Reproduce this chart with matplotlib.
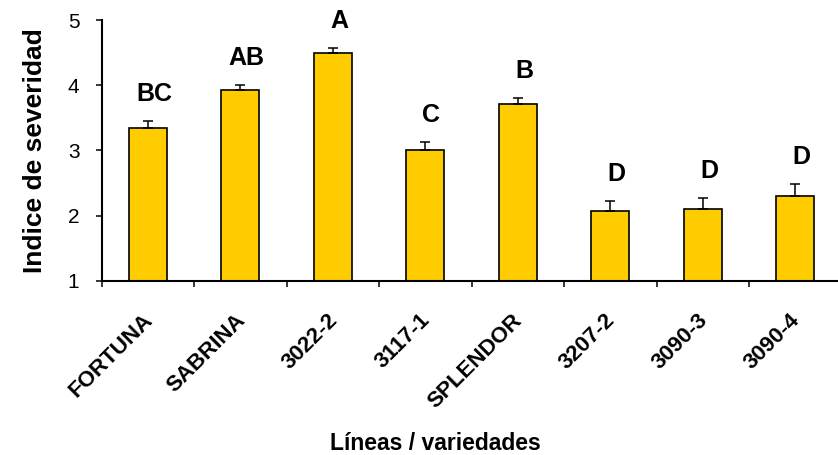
import matplotlib
matplotlib.use("Agg")
import matplotlib.pyplot as plt
from matplotlib.transforms import ScaledTranslation
import numpy as np

plt.rcParams['font.family'] = ['Liberation Sans', 'DejaVu Sans']

# Severity index per line / variety, with standard error and Tukey grouping
categories = ['FORTUNA', 'SABRINA', '3022-2', '3117-1', 'SPLENDOR', '3207-2', '3090-3', '3090-4']
means = [3.34, 3.92, 4.49, 3.01, 3.71, 2.07, 2.10, 2.30]
errors = [0.11, 0.08, 0.08, 0.12, 0.09, 0.15, 0.17, 0.18]
letters = ['BC', 'AB', 'A', 'C', 'B', 'D', 'D', 'D']
y_ticks = [1, 2, 3, 4, 5]

W, H = 838, 455
fig = plt.figure(figsize=(W / 100, H / 100), dpi=100)
ax = fig.add_axes([101.7 / W, (H - 280.7) / H, 740 / W, (280.7 - 20) / H])

x = np.arange(len(categories))
ax.bar(x, means, width=0.41, color='#FFCC00', edgecolor='black', linewidth=1.2, zorder=2)
ax.errorbar(x, means, yerr=[np.zeros(len(errors)), errors], fmt='none',
            ecolor='black', elinewidth=1.1, capsize=3.3, capthick=1.1, zorder=3)

for xi, m, e, lab in zip(x, means, errors, letters):
    ax.annotate(lab, xy=(xi, m + e), xytext=(4.3, 14.5), textcoords='offset points',
                ha='center', va='baseline', fontsize=18, fontweight='bold')

ax.set_xlim(-0.5, len(categories) - 0.5)
ax.set_ylim(1, 5)
ax.set_yticks(y_ticks)
ax.set_yticklabels([str(t) for t in y_ticks], fontsize=15)
ax.tick_params(axis='y', direction='out', length=4.5, width=1.1, pad=11.5)

# boundaries between categories carry the tick marks, centers carry the names
ax.set_xticks(np.arange(len(categories) + 1) - 0.5)
ax.set_xticklabels([])
ax.tick_params(axis='x', which='major', direction='out', length=4.5, width=1.1)
ax.set_xticks(x, minor=True)
ax.set_xticklabels(categories, minor=True, rotation=45, ha='right',
                   rotation_mode='anchor', fontsize=16, fontweight='bold')
ax.tick_params(axis='x', which='minor', length=0, pad=21)
shift = ScaledTranslation(-6 / 100, 0, fig.dpi_scale_trans)
for lbl in ax.get_xticklabels(minor=True):
    lbl.set_transform(lbl.get_transform() + shift)

for side in ['top', 'right']:
    ax.spines[side].set_visible(False)
for side in ['left', 'bottom']:
    ax.spines[side].set_linewidth(1.5)

ax.set_ylabel('Indice de severidad', fontsize=19, fontweight='bold', labelpad=15)
fig.text(435 / W, (H - 444) / H, 'Líneas / variedades', ha='center', va='center',
         fontsize=16.5, fontweight='bold')

fig.savefig('out.png', dpi=100)
